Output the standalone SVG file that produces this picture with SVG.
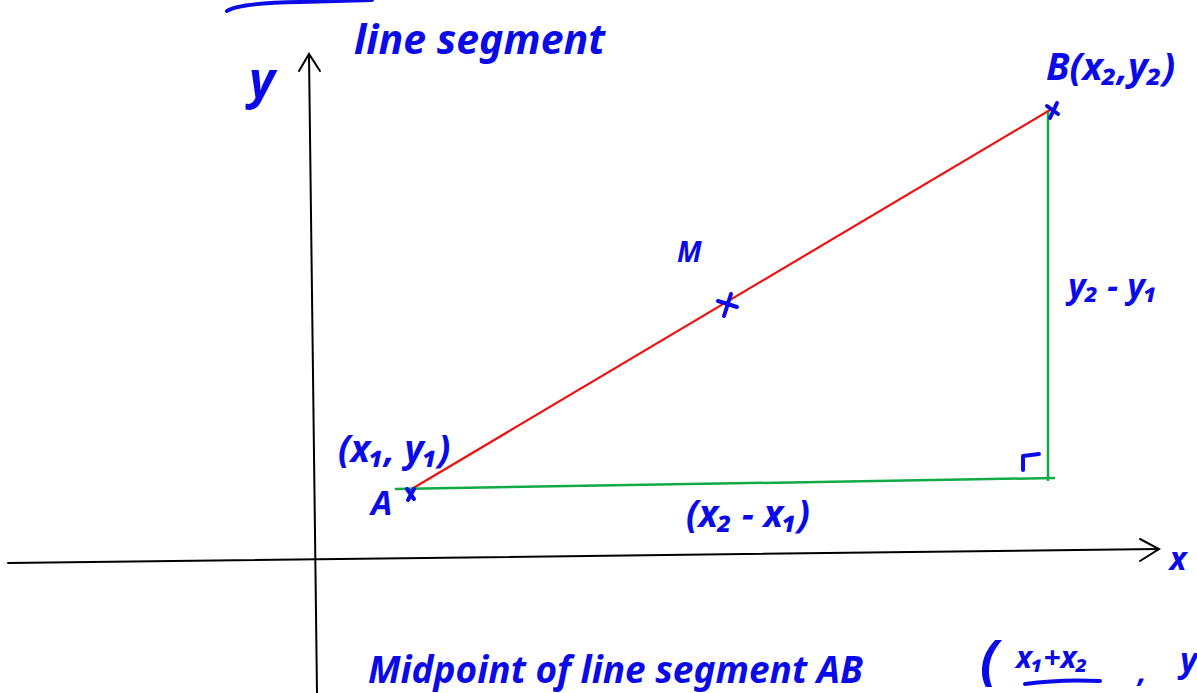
<svg xmlns="http://www.w3.org/2000/svg" width="1197" height="693" viewBox="0 0 1197 693">
<style>
.hw{font-family:"Noto Sans","DejaVu Sans",sans-serif;font-style:italic;font-weight:bold;fill:#0b0be8}
.ink{stroke:#0b0be8;stroke-width:4;fill:none;stroke-linecap:round;stroke-linejoin:round}
.axis{stroke:#000;stroke-width:2;fill:none;stroke-linecap:round}
</style>
<rect width="1197" height="693" fill="#fff"/>
<path class="ink" d="M227,11 Q238,3 300,2 L372,0"/>
<g id="axes">
<path class="axis" d="M309,55 L317,693"/>
<path class="axis" d="M299,71 L309,54 L320,71"/>
<path class="axis" d="M8,563 L1158,549"/>
<path class="axis" d="M1140,539 L1159,549 L1140,561"/>
</g>
<g id="connectors">
<path d="M410,490 L1050,110" stroke="#ee1111" stroke-width="2.2" fill="none"/>
<path d="M395,489 L1055,478" stroke="#11aa44" stroke-width="2.5" fill="none"/>
<path d="M1048,112 L1048,481" stroke="#11aa44" stroke-width="2.5" fill="none"/>
<path class="ink" d="M1023,470 L1023,456 L1039,454"/>
</g>
<g id="pointA">
<path class="ink" d="M407,489 L414,499 M414,489 L408,500" stroke-width="3"/>
<text class="hw" x="371" y="515" font-size="34">A</text>
<text class="hw" x="338" y="462" font-size="37">(x₁, y₁)</text>
</g>
<g id="pointM">
<path class="ink" d="M718,301 L737,307 M731,294 L724,316"/>
<text class="hw" x="677" y="262" font-size="28">M</text>
</g>
<g id="pointB">
<path class="ink" d="M1047,106 L1058,114 M1057,103 L1050,118" stroke-width="3.5"/>
<text class="hw" x="1046" y="80" font-size="38">B(x₂,y₂)</text>
</g>
<g id="labels">
<text class="hw" x="262" y="98" font-size="50" text-anchor="middle">y</text>
<text class="hw" x="1178" y="570" font-size="32" text-anchor="middle">x</text>
<text class="hw" x="354" y="54" font-size="41">line segment</text>
<text class="hw" x="686" y="527" font-size="37">(x₂ − x₁)</text>
<text class="hw" x="1068" y="298" font-size="34">y₂ − y₁</text>
<text class="hw" x="368" y="683" font-size="37">Midpoint of line segment AB</text>
<text class="hw" x="980" y="679" font-size="54">(</text>
<text class="hw" x="1016" y="668" font-size="30">x₁+x₂</text>
<path class="ink" d="M1025,684 Q1060,679 1100,681"/>
<text class="hw" x="1138" y="682" font-size="30">,</text>
<text class="hw" x="1180" y="672" font-size="34">y</text>
</g>
</svg>
